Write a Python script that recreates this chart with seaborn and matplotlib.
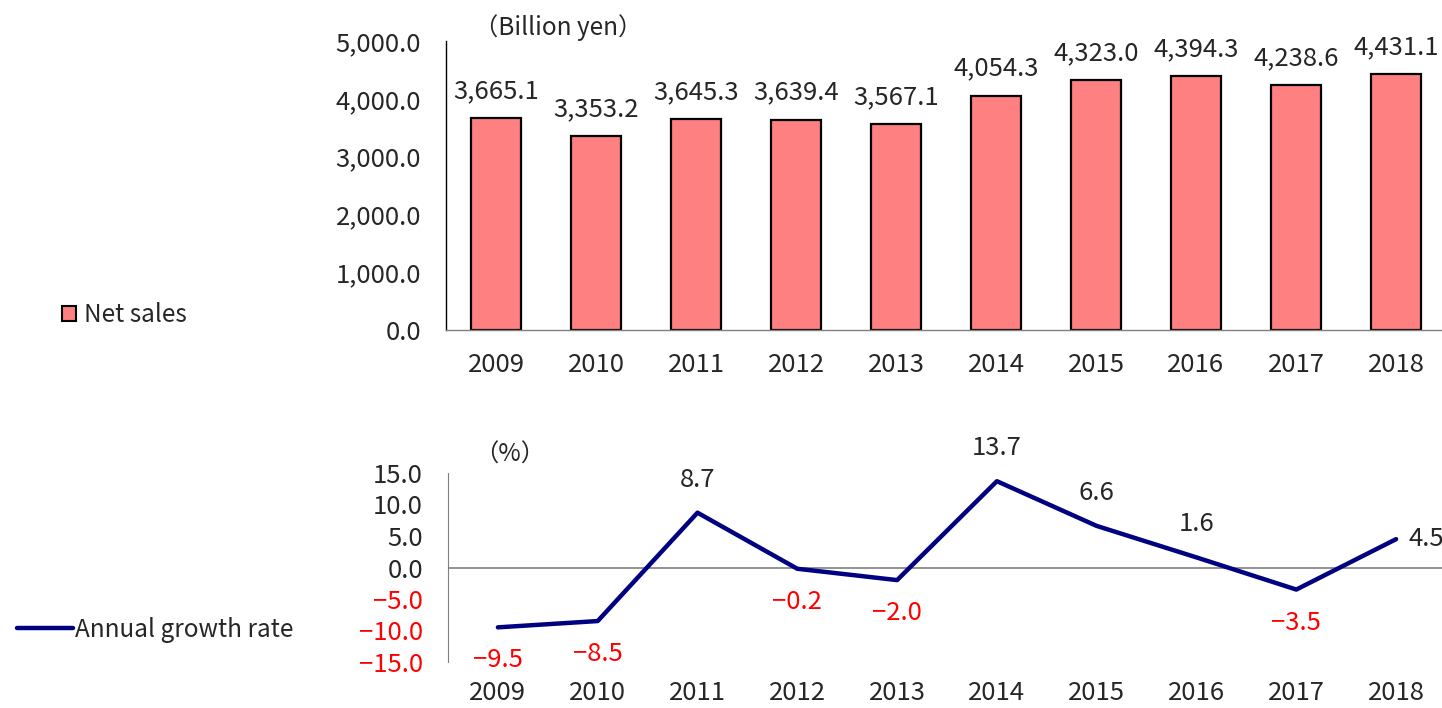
import numpy as np
import pandas as pd
import matplotlib
matplotlib.use("Agg")
import matplotlib.pyplot as plt
from matplotlib.patches import Patch
from matplotlib.lines import Line2D
from matplotlib.ticker import FuncFormatter, FixedLocator
import seaborn as sns

# =========================
# Data
# =========================
years = ["2009", "2010", "2011", "2012", "2013", "2014", "2015", "2016", "2017", "2018"]
net_sales = [3665.1, 3353.2, 3645.3, 3639.4, 3567.1, 4054.3, 4323.0, 4394.3, 4238.6, 4431.1]
growth_rate = [-9.5, -8.5, 8.7, -0.2, -2.0, 13.7, 6.6, 1.6, -3.5, 4.5]

sales_ticks = [0, 1000, 2000, 3000, 4000, 5000]
growth_ticks = [-15, -10, -5, 0, 5, 10, 15]

df = pd.DataFrame({"Year": years, "Net sales": net_sales, "Growth": growth_rate})
df["pos"] = np.arange(len(years))

sns.set_style("white")
plt.rcParams["font.family"] = ["Noto Sans CJK JP", "DejaVu Sans"]
plt.rcParams["font.size"] = 18

MINUS = "\u2212"
BAR_COLOR = "#FF8080"
LINE_COLOR = "#000080"
GRAY = "#808080"

def fmt(v, comma=False):
    s = f"{abs(v):,.1f}" if comma else f"{abs(v):.1f}"
    return (MINUS + s) if v < 0 else s

fig = plt.figure(figsize=(14.42, 7.08), dpi=100)
W, H = 1442, 708

def add_axes(left, top, right, bottom):
    return fig.add_axes([left / W, 1 - bottom / H, (right - left) / W, (bottom - top) / H])

# =========================
# Top: net sales bars
# =========================
ax1 = add_axes(446, 41, 1446, 330)
sns.barplot(data=df, x="Year", y="Net sales", color=BAR_COLOR, saturation=1,
            width=0.5, edgecolor="black", linewidth=1.6, ax=ax1)
ax1.set_xlim(-0.5, len(years) - 0.5)
ax1.set_ylim(0, 5000)
ax1.set_yticks(sales_ticks)
ax1.yaxis.set_major_formatter(FuncFormatter(lambda v, p: f"{v:,.1f}"))
ax1.set_xlabel("")
ax1.set_ylabel("")
for s in ["top", "right"]:
    ax1.spines[s].set_visible(False)
ax1.spines["left"].set_color("black")
ax1.spines["bottom"].set_color(GRAY)
ax1.spines["left"].set_linewidth(1.0)
ax1.spines["bottom"].set_linewidth(1.0)
ax1.tick_params(axis="y", direction="in", length=6, width=1, color=GRAY, pad=18, labelsize=18.5)
ax1.tick_params(axis="x", which="major", length=0, pad=16, labelsize=18.5)
ax1.xaxis.set_minor_locator(FixedLocator(np.arange(0.5, len(years) - 0.5, 1)))
ax1.tick_params(axis="x", which="minor", direction="in", length=7, width=1, color=GRAY)

for x, v in zip(df["pos"], df["Net sales"]):
    ax1.annotate(fmt(v, comma=True), (x, v), xytext=(0, 14), textcoords="offset pixels",
                 ha="center", va="bottom", fontsize=18.5)

ax1.text(0.028, 1.0, "（Billion yen）", transform=ax1.transAxes, ha="left", va="bottom", fontsize=17.5)

# =========================
# Bottom: annual growth rate line
# =========================
ax2 = add_axes(448, 473, 1446, 662)
sns.lineplot(x=df["pos"], y=df["Growth"], color=LINE_COLOR, linewidth=3.2, ax=ax2)
ax2.set_xlim(-0.5, len(years) - 0.5)
ax2.set_ylim(-15, 15)
ax2.set_yticks(growth_ticks)
ax2.yaxis.set_major_formatter(FuncFormatter(lambda v, p: fmt(v)))
ax2.set_xticks(df["pos"])
ax2.set_xticklabels(years)
ax2.set_xlabel("")
ax2.set_ylabel("")
for s in ["top", "right", "bottom"]:
    ax2.spines[s].set_visible(False)
ax2.spines["left"].set_color(GRAY)
ax2.axhline(0, color=GRAY, linewidth=1.2, zorder=0)
ax2.tick_params(axis="y", direction="in", length=6, width=1, color=GRAY, pad=18, labelsize=18.5)
ax2.tick_params(axis="x", length=0, pad=13, labelsize=18.5)
for t, v in zip(ax2.get_yticklabels(), growth_ticks):
    if v < 0:
        t.set_color("red")

for i, (x, v) in enumerate(zip(df["pos"], df["Growth"])):
    if i == len(years) - 1:
        ax2.annotate(fmt(v), (x, v), xytext=(12, 0), textcoords="offset pixels",
                     ha="left", va="center", fontsize=18.5)
    elif v >= 0:
        ax2.annotate(fmt(v), (x, v), xytext=(0, 20), textcoords="offset pixels",
                     ha="center", va="bottom", fontsize=18.5)
    else:
        ax2.annotate(fmt(v), (x, v), xytext=(0, -20), textcoords="offset pixels",
                     ha="center", va="top", fontsize=18.5, color="red")

ax2.text(0.026, 1.03, "（%）", transform=ax2.transAxes, ha="left", va="bottom", fontsize=17.5)

# =========================
# Legends on the left
# =========================
fig.legend(handles=[Patch(facecolor=BAR_COLOR, edgecolor="black", linewidth=1.5, label="Net sales")],
           loc="center left", bbox_to_anchor=(40 / W, 1 - 315 / H), frameon=False,
           handlelength=0.6, handleheight=0.6, handletextpad=0.3, fontsize=17.5)
fig.legend(handles=[Line2D([0], [0], color=LINE_COLOR, linewidth=3.2, label="Annual growth rate")],
           loc="center left", bbox_to_anchor=(-5 / W, 1 - 630 / H), frameon=False,
           handlelength=2.3, handletextpad=0.1, fontsize=17.5)

fig.savefig("out.png", dpi=100)
